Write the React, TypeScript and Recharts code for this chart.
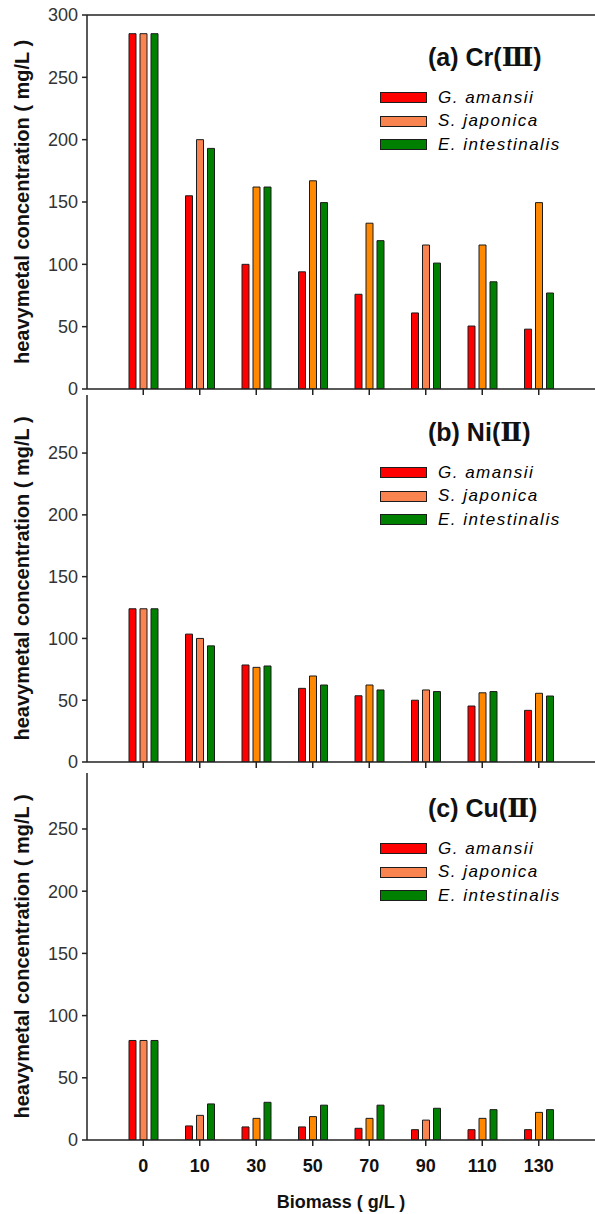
import { BarChart, Bar, XAxis, YAxis, Legend, ReferenceLine, Cell } from 'recharts';

const categories = ['0', '10', '30', '50', '70', '90', '110', '130'];

const crG = [285, 155, 100, 94, 76, 61, 50.5, 48];
const crS = [285, 200, 162, 167, 133, 115.5, 115.5, 149.5];
const crE = [285, 193, 162, 149.5, 119, 101, 86, 77];

const niG = [124, 103.5, 78.5, 59.6, 53.6, 50, 45.3, 41.8];
const niS = [124, 100, 76.6, 69.6, 62.3, 58.3, 56, 55.6];
const niE = [124, 94, 77.7, 62.3, 58.3, 57, 57, 53.4];

const cuG = [80, 11.3, 10.5, 10.5, 9.4, 8.3, 8.3, 8.3];
const cuS = [80, 19.8, 17.4, 18.8, 17.4, 16, 17.4, 22.2];
const cuE = [80, 29, 30.3, 28, 28, 25.5, 24.4, 24.4];

const seriesNames = ['G. amansii', 'S. japonica', 'E. intestinalis'];
const yTicksFull = [0, 50, 100, 150, 200, 250, 300];
const yTicksShort = [0, 50, 100, 150, 200, 250];

const RED = '#FF0000';
const SALMON = '#FA8450';
const ORANGE = '#FF8800';
const GREEN = '#008000';
const EDGE = '#1c1c1c';
// the S. japonica bars were drawn in two slightly different oranges
const sjFills = [SALMON, SALMON, ORANGE, ORANGE, ORANGE, SALMON, ORANGE, ORANGE];
const legendFills = [RED, SALMON, GREEN];

const FONT = '"Liberation Sans", Arial, sans-serif';

function YLabel(props: any) {
  const vb = props.viewBox || {};
  const cy = vb.y + vb.height / 2;
  return (
    <text
      x={22}
      y={cy}
      transform={`rotate(-90 22 ${cy})`}
      textAnchor="middle"
      dominantBaseline="central"
      fontFamily={FONT}
      fontWeight="bold"
      fontSize={20}
      fill="#111"
    >
      heavymetal concentration ( mg/L )
    </text>
  );
}

function PanelLegend({ title, numeral }: { title: string; numeral: string }) {
  return (
    <div style={{ fontFamily: FONT }}>
      <div
        style={{
          fontSize: 25,
          fontWeight: 'bold',
          color: '#111',
          marginLeft: 48,
          height: 28,
          lineHeight: '28px',
          whiteSpace: 'nowrap',
          overflow: 'visible',
        }}
      >
        {title}(
        <span style={{ fontFamily: '"DejaVu Serif", serif', fontWeight: 'bold', fontSize: 26, lineHeight: '28px' }}>
          {numeral}
        </span>
        )
      </div>
      <div style={{ marginTop: 15 }}>
        {seriesNames.map((n, i) => (
          <div key={n} style={{ display: 'flex', alignItems: 'center', height: 23.5 }}>
            <span
              style={{
                display: 'inline-block',
                width: 45,
                height: 9,
                background: legendFills[i],
                border: `1px solid ${EDGE}`,
                marginRight: 11,
              }}
            />
            <span style={{ fontStyle: 'italic', fontSize: 17, color: '#000', letterSpacing: 1.5, whiteSpace: 'nowrap' }}>{n}</span>
          </div>
        ))}
      </div>
    </div>
  );
}

interface PanelProps {
  title: string;
  numeral: string;
  g: number[];
  s: number[];
  e: number[];
  top: number;
  marginTop: number;
  plotHeight: number;
  xAxisHeight: number;
  yMax: number;
  yTicks: number[];
  showX?: boolean;
  frameTop?: boolean;
  legendTop: number;
}

function Panel({ title, numeral, g, s, e, top, marginTop, plotHeight, xAxisHeight, yMax, yTicks, showX, frameTop, legendTop }: PanelProps) {
  const data = categories.map((c, i) => ({ cat: c, g: g[i], s: s[i], e: e[i] }));
  const height = marginTop + plotHeight + xAxisHeight;
  return (
    <div style={{ position: 'absolute', left: 0, top }}>
      <BarChart
        width={595}
        height={height}
        data={data}
        margin={{ top: marginTop, right: 0, bottom: 0, left: 7 }}
        barSize={7}
        barGap={4}
      >
        <XAxis
          dataKey="cat"
          height={xAxisHeight}
          padding={{ left: 28, right: 28 }}
          stroke="#222"
          strokeWidth={1.5}
          tickSize={6}
          tickMargin={13}
          interval={0}
          tick={showX ? { fill: '#111', fontSize: 18, fontWeight: 'bold', fontFamily: FONT } : () => <g />}
          label={
            showX
              ? { value: 'Biomass ( g/L )', position: 'insideBottom', offset: 6, fill: '#111', fontSize: 18, fontWeight: 'bold', fontFamily: FONT }
              : undefined
          }
        />
        <YAxis
          width={80}
          domain={[0, yMax]}
          ticks={yTicks}
          interval={0}
          allowDataOverflow
          stroke="#222"
          strokeWidth={1.5}
          tickSize={5}
          tickMargin={4}
          tick={{ fill: '#333', fontSize: 18, fontFamily: FONT }}
          label={{ content: YLabel }}
        />
        {frameTop && <ReferenceLine y={yMax} stroke="#222" strokeWidth={1.5} />}
        <Legend
          layout="vertical"
          align="center"
          verticalAlign="middle"
          wrapperStyle={{ left: 380, top: legendTop, width: 215 }}
          content={() => <PanelLegend title={title} numeral={numeral} />}
        />
        <Bar dataKey="g" name={seriesNames[0]} fill={RED} stroke={EDGE} strokeWidth={1} isAnimationActive={false} />
        <Bar dataKey="s" name={seriesNames[1]} fill={SALMON} stroke={EDGE} strokeWidth={1} isAnimationActive={false}>
          {data.map((d, i) => (
            <Cell key={d.cat} fill={sjFills[i]} />
          ))}
        </Bar>
        <Bar dataKey="e" name={seriesNames[2]} fill={GREEN} stroke={EDGE} strokeWidth={1} isAnimationActive={false} />
      </BarChart>
    </div>
  );
}

export default function App() {
  return (
    <div style={{ position: 'absolute', left: 0, top: 0, width: 595, height: 1214, background: '#fff', fontFamily: FONT }}>
      <Panel
        title="(a) Cr"
        numeral="Ⅲ"
        g={crG}
        s={crS}
        e={crE}
        top={0}
        marginTop={15}
        plotHeight={374}
        xAxisHeight={12}
        yMax={300}
        yTicks={yTicksFull}
        frameTop
        legendTop={43}
      />
      <Panel
        title="(b) Ni"
        numeral="Ⅱ"
        g={niG}
        s={niS}
        e={niE}
        top={390}
        marginTop={5}
        plotHeight={367}
        xAxisHeight={12}
        yMax={297}
        yTicks={yTicksShort}
        legendTop={28}
      />
      <Panel
        title="(c) Cu"
        numeral="Ⅱ"
        g={cuG}
        s={cuS}
        e={cuE}
        top={768}
        marginTop={5}
        plotHeight={367}
        xAxisHeight={74}
        yMax={295}
        yTicks={yTicksShort}
        showX
        legendTop={26}
      />
    </div>
  );
}
